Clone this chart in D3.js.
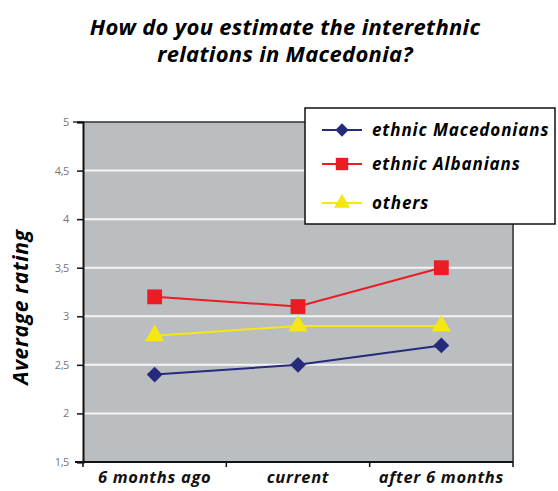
<!DOCTYPE html>
<html><head><meta charset="utf-8">
<script src="https://cdn.jsdelivr.net/npm/d3@7"></script>
<style>
body{margin:0;background:#fff;}
text{font-family:"Open Sans",Lato,sans-serif;}
</style></head>
<body><svg id="c" width="558" height="491"></svg>
<script>
const categories = ["6 months ago", "current", "after 6 months"];
const macedonians = [2.4, 2.5, 2.7];
const albanians = [3.2, 3.1, 3.5];
const others = [2.8, 2.9, 2.9];
const yTicks = [1.5, 2, 2.5, 3, 3.5, 4, 4.5, 5];
const seriesNames = ["ethnic Macedonians", "ethnic Albanians", "others"];

const series = [
  {name: seriesNames[0], values: macedonians, color: "#262a7a", symbol: d3.symbolDiamond2, size: 160},
  {name: seriesNames[1], values: albanians, color: "#ec1c24", symbol: d3.symbolSquare, size: 220},
  {name: seriesNames[2], values: others, color: "#f5e614", symbol: d3.symbolTriangle, size: 160}
];

const svg = d3.select("#c");
const L = 83, R = 513, T = 122, B = 462;
const x = d3.scaleBand().domain(categories).range([L, R]);
const y = d3.scaleLinear().domain([1.5, 5]).range([B, T]);

// title
svg.append("text").attr("x", 285).attr("y", 35).attr("text-anchor", "middle")
  .attr("font-size", 22).attr("font-weight", 700).attr("font-style", "italic")
  .attr("letter-spacing", 0.3).text("How do you estimate the interethnic");
svg.append("text").attr("x", 285).attr("y", 62).attr("text-anchor", "middle")
  .attr("font-size", 22).attr("font-weight", 700).attr("font-style", "italic")
  .attr("letter-spacing", 0.3).text("relations in Macedonia?");

// plot bg
svg.append("rect").attr("x", L).attr("y", T).attr("width", R - L).attr("height", B - T).attr("fill", "#bbbec1");

// gridlines
svg.append("g").selectAll("line").data(yTicks.filter(v => v > 1.5 && v < 5)).join("line")
  .attr("x1", L).attr("x2", R).attr("y1", d => y(d)).attr("y2", d => y(d))
  .attr("stroke", "#f4f4f4").attr("stroke-width", 2);

// borders top/right
svg.append("line").attr("x1", L - 10).attr("x2", R).attr("y1", T).attr("y2", T).attr("stroke", "#333").attr("stroke-width", 1.5);
svg.append("line").attr("x1", R).attr("x2", R).attr("y1", T).attr("y2", B).attr("stroke", "#555").attr("stroke-width", 2);

// y axis
const yAxis = d3.axisLeft(y).tickValues(yTicks).tickSize(6).tickPadding(8)
  .tickFormat(d => d3.format("")(d).replace(".", ","));
const gy = svg.append("g").attr("transform", `translate(${L},0)`).call(yAxis);
gy.select(".domain").attr("stroke", "#111").attr("stroke-width", 2);
gy.selectAll(".tick line").attr("stroke", "#111").attr("stroke-width", 1.5);
gy.selectAll(".tick text").attr("fill", "#777").attr("font-size", 11).attr("font-family", "'Open Sans',sans-serif").attr("letter-spacing", -0.4);

// x axis
const xAxis = d3.axisBottom(x).tickSize(0).tickPadding(9);
const gx = svg.append("g").attr("transform", `translate(0,${B})`).call(xAxis);
gx.select(".domain").attr("stroke", "#111").attr("stroke-width", 2).attr("d", `M${L-8},0H${R}`);
gx.selectAll(".tick text").attr("fill", "#111").attr("font-size", 16.5).attr("font-weight", 700)
  .attr("font-style", "italic").attr("font-family", "'Open Sans',sans-serif").attr("letter-spacing", 0.7);
svg.append("g").selectAll("line").data([L, ...categories.slice(1).map(c => x(c)), R]).join("line")
  .attr("x1", d => d).attr("x2", d => d).attr("y1", B).attr("y2", B + 5)
  .attr("stroke", "#111").attr("stroke-width", 1.5);

// y label
svg.append("text").attr("transform", "translate(28,307) rotate(-90)").attr("text-anchor", "middle")
  .attr("font-size", 21).attr("font-weight", 700).attr("font-style", "italic").attr("letter-spacing", 0.7)
  .text("Average rating");

// series
const cx = c => x(c) + x.bandwidth() / 2;
const line = d3.line().x((d, i) => cx(categories[i])).y(d => y(d));
series.forEach(s => {
  svg.append("path").datum(s.values).attr("d", line).attr("fill", "none")
    .attr("stroke", s.color).attr("stroke-width", 2);
  svg.append("g").selectAll("path").data(s.values).join("path")
    .attr("transform", (d, i) => `translate(${cx(categories[i])},${y(d)})`)
    .attr("d", d3.symbol().type(s.symbol).size(s.size)).attr("fill", s.color);
});

// legend
const lg = svg.append("g");
lg.append("rect").attr("x", 305).attr("y", 108).attr("width", 250).attr("height", 116)
  .attr("fill", "#fff").attr("stroke", "#111").attr("stroke-width", 1.5);
const rowsY = [130, 164, 203];
series.forEach((s, i) => {
  lg.append("line").attr("x1", 322).attr("x2", 362).attr("y1", rowsY[i]).attr("y2", rowsY[i])
    .attr("stroke", s.color).attr("stroke-width", 2);
  lg.append("path").attr("transform", `translate(342,${rowsY[i]})`)
    .attr("d", d3.symbol().type(s.symbol).size(s.size * 0.7)).attr("fill", s.color);
  lg.append("text").attr("x", 372).attr("y", rowsY[i] + 6).attr("font-size", 17).attr("font-weight", 700)
    .attr("font-style", "italic").attr("letter-spacing", 0.9).text(s.name);
});
</script></body></html>
